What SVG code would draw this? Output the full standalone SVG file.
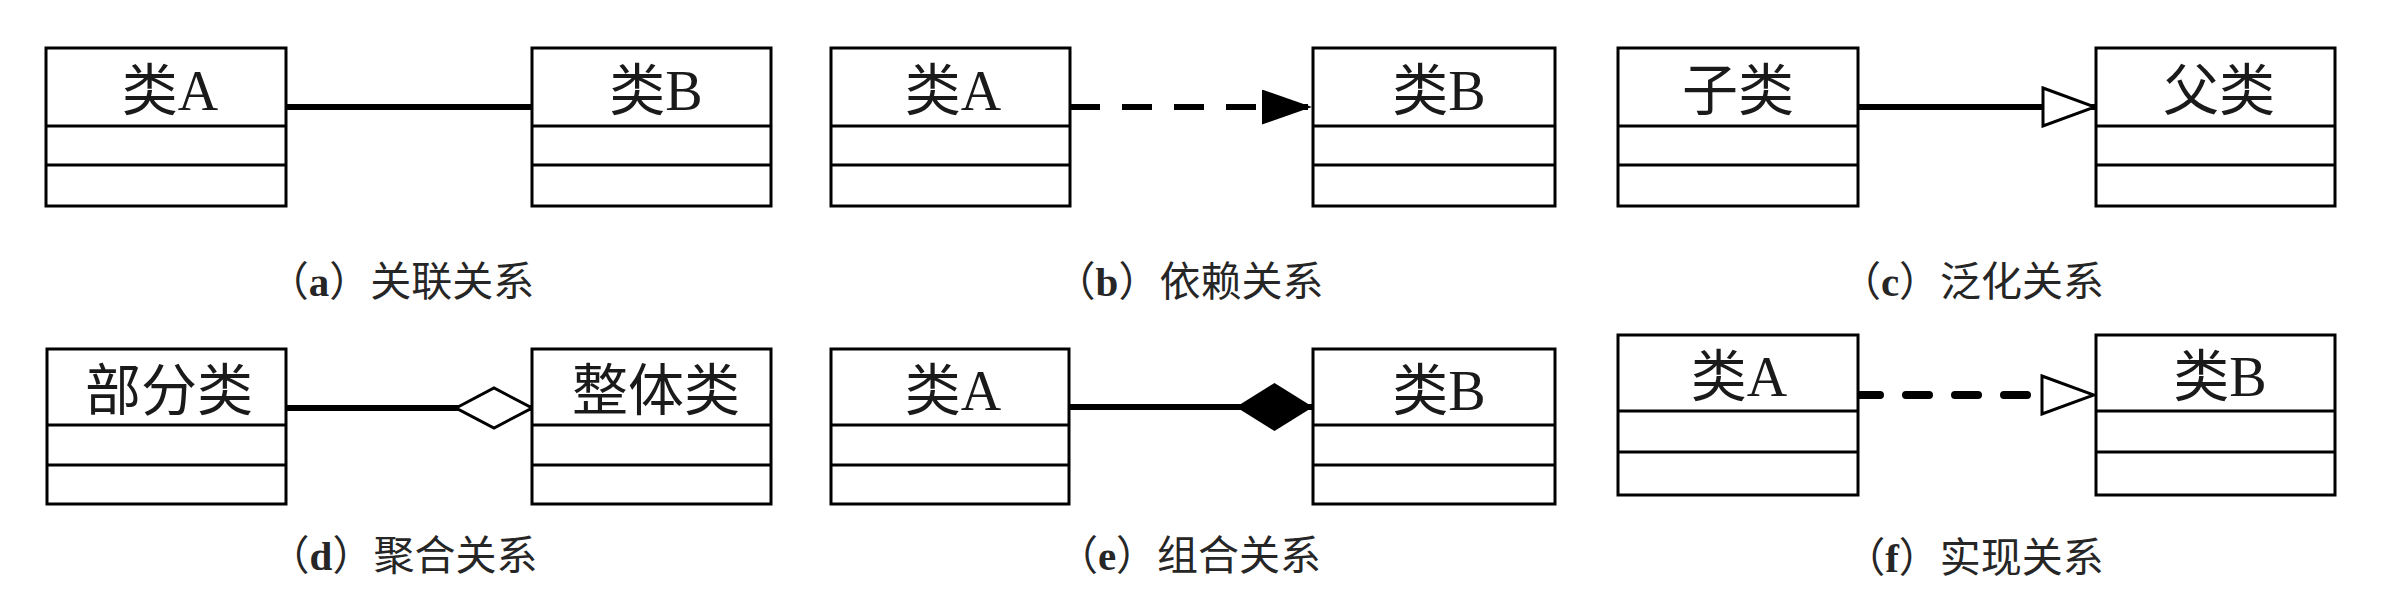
<svg xmlns="http://www.w3.org/2000/svg" width="2391" height="604" viewBox="0 0 2391 604">
<style>
.box rect{fill:#fff;stroke:#000;stroke-width:3}
.box line{stroke:#000;stroke-width:3}
.lbl{font-family:"Liberation Serif","Noto Sans CJK SC",serif;font-size:56px;fill:#1a1a1a;text-anchor:middle}
.cap{font-family:"Liberation Serif","Noto Sans CJK SC",serif;font-size:41px;fill:#262626;text-anchor:middle}
.cap tspan{font-weight:bold}
.solid{stroke:#000;stroke-width:6;fill:none}
.dash{stroke:#000;stroke-width:6;fill:none;stroke-dasharray:30 22}
.dash2{stroke:#000;stroke-width:8;fill:none;stroke-dasharray:23 26;stroke-linecap:round}
</style>
<defs>
<marker id="triFill" markerUnits="userSpaceOnUse" viewBox="0 0 50 35" refX="50" refY="17.5" markerWidth="50" markerHeight="35" orient="auto">
<path d="M0,0 L50,17.5 L0,35 Z" fill="#000"/>
</marker>
<marker id="triHollow" markerUnits="userSpaceOnUse" viewBox="0 0 56 42" refX="54" refY="21" markerWidth="56" markerHeight="42" orient="auto">
<path d="M2,2 L54,21 L2,40 Z" fill="#fff" stroke="#000" stroke-width="3" stroke-linejoin="miter"/>
</marker>
<marker id="diaHollow" markerUnits="userSpaceOnUse" viewBox="0 0 80 44" refX="78" refY="22" markerWidth="80" markerHeight="44" orient="auto">
<path d="M2,22 L40,2 L78,22 L40,42 Z" fill="#fff" stroke="#000" stroke-width="3"/>
</marker>
<marker id="diaFill" markerUnits="userSpaceOnUse" viewBox="0 0 78 48" refX="77" refY="24" markerWidth="78" markerHeight="48" orient="auto">
<path d="M0,24 L38.5,0 L77,24 L38.5,48 Z" fill="#000"/>
</marker>
</defs>
<rect width="2391" height="604" fill="#fff"/>

<g id="connectors">
<line class="solid" x1="286" y1="107" x2="532" y2="107"/>
<line class="dash" x1="1070" y1="107" x2="1312" y2="107" marker-end="url(#triFill)"/>
<line class="solid" x1="1852" y1="107" x2="2095" y2="107" marker-end="url(#triHollow)"/>
<line class="solid" x1="286" y1="408" x2="532" y2="408" marker-end="url(#diaHollow)"/>
<line class="solid" x1="1069" y1="407" x2="1313" y2="407" marker-end="url(#diaFill)"/>
<line class="dash2" x1="1857" y1="395" x2="2094" y2="395" marker-end="url(#triHollow)"/>
</g>

<g id="a-classA" class="box">
<rect x="46" y="48" width="240" height="158"/>
<line x1="46" y1="126" x2="286" y2="126"/><line x1="46" y1="165" x2="286" y2="165"/>
<text class="lbl" x="170" y="110">类A</text>
</g>
<g id="a-classB" class="box">
<rect x="532" y="48" width="239" height="158"/>
<line x1="532" y1="126" x2="771" y2="126"/><line x1="532" y1="165" x2="771" y2="165"/>
<text class="lbl" x="656" y="110">类B</text>
</g>
<text id="cap-a" class="cap" x="401" y="296">（<tspan>a</tspan>）关联关系</text>

<g id="b-classA" class="box">
<rect x="831" y="48" width="239" height="158"/>
<line x1="831" y1="126" x2="1070" y2="126"/><line x1="831" y1="165" x2="1070" y2="165"/>
<text class="lbl" x="953" y="110">类A</text>
</g>
<g id="b-classB" class="box">
<rect x="1313" y="48" width="242" height="158"/>
<line x1="1313" y1="126" x2="1555" y2="126"/><line x1="1313" y1="165" x2="1555" y2="165"/>
<text class="lbl" x="1439" y="110">类B</text>
</g>
<text id="cap-b" class="cap" x="1189" y="296">（<tspan>b</tspan>）依赖关系</text>

<g id="c-sub" class="box">
<rect x="1618" y="48" width="240" height="158"/>
<line x1="1618" y1="126" x2="1858" y2="126"/><line x1="1618" y1="165" x2="1858" y2="165"/>
<text class="lbl" x="1738" y="110">子类</text>
</g>
<g id="c-super" class="box">
<rect x="2096" y="48" width="239" height="158"/>
<line x1="2096" y1="126" x2="2335" y2="126"/><line x1="2096" y1="165" x2="2335" y2="165"/>
<text class="lbl" x="2219" y="110">父类</text>
</g>
<text id="cap-c" class="cap" x="1972" y="296">（<tspan>c</tspan>）泛化关系</text>

<g id="d-part" class="box">
<rect x="47" y="349" width="239" height="155"/>
<line x1="47" y1="425" x2="286" y2="425"/><line x1="47" y1="465" x2="286" y2="465"/>
<text class="lbl" x="169" y="410">部分类</text>
</g>
<g id="d-whole" class="box">
<rect x="532" y="349" width="239" height="155"/>
<line x1="532" y1="425" x2="771" y2="425"/><line x1="532" y1="465" x2="771" y2="465"/>
<text class="lbl" x="656" y="410">整体类</text>
</g>
<text id="cap-d" class="cap" x="403" y="570">（<tspan>d</tspan>）聚合关系</text>

<g id="e-classA" class="box">
<rect x="831" y="349" width="238" height="155"/>
<line x1="831" y1="425" x2="1069" y2="425"/><line x1="831" y1="465" x2="1069" y2="465"/>
<text class="lbl" x="953" y="410">类A</text>
</g>
<g id="e-classB" class="box">
<rect x="1313" y="349" width="242" height="155"/>
<line x1="1313" y1="425" x2="1555" y2="425"/><line x1="1313" y1="465" x2="1555" y2="465"/>
<text class="lbl" x="1439" y="410">类B</text>
</g>
<text id="cap-e" class="cap" x="1189" y="570">（<tspan>e</tspan>）组合关系</text>

<g id="f-classA" class="box">
<rect x="1618" y="335" width="240" height="160"/>
<line x1="1618" y1="411" x2="1858" y2="411"/><line x1="1618" y1="452" x2="1858" y2="452"/>
<text class="lbl" x="1739" y="396">类A</text>
</g>
<g id="f-classB" class="box">
<rect x="2096" y="335" width="239" height="160"/>
<line x1="2096" y1="411" x2="2335" y2="411"/><line x1="2096" y1="452" x2="2335" y2="452"/>
<text class="lbl" x="2220" y="396">类B</text>
</g>
<text id="cap-f" class="cap" x="1974" y="572">（<tspan>f</tspan>）实现关系</text>
</svg>
